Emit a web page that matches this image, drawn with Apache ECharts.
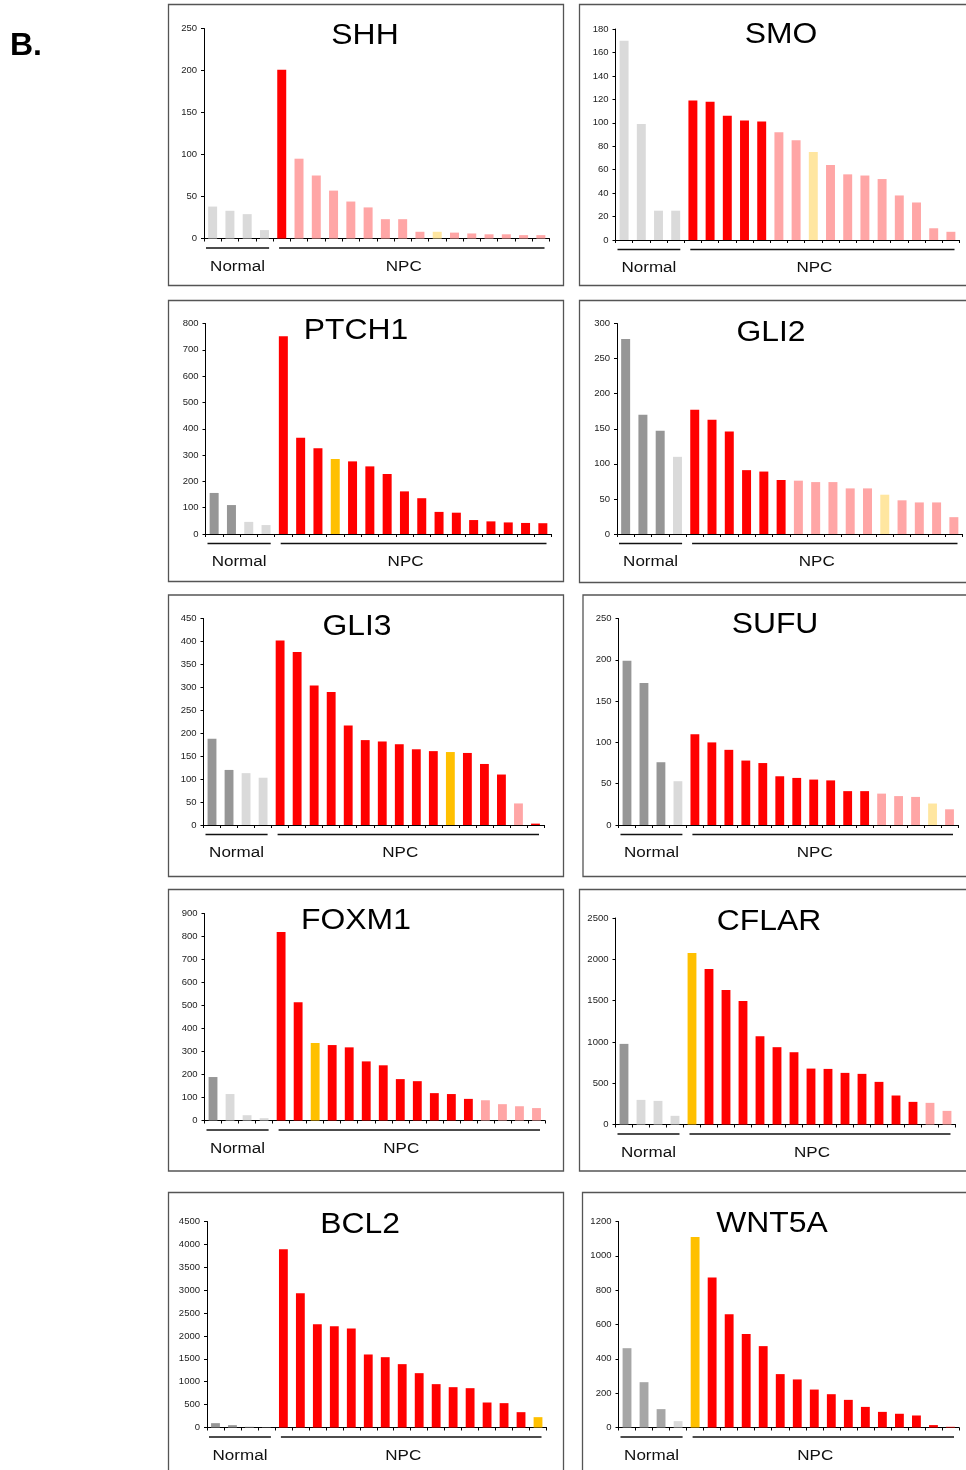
<!DOCTYPE html>
<html>
<head>
<meta charset="utf-8">
<script src="https://cdn.jsdelivr.net/npm/echarts@6/dist/echarts.min.js"></script>
<style>
html, body { margin: 0; padding: 0; background: #fff; }
#chart { width: 966px; height: 1470px; }
</style>
</head>
<body>
<div id="chart"></div>
<script>
// samples: 4 normal tissues then 16 NPC tumours
const categories = ['N1', 'N2', 'N3', 'N4',
    'T1', 'T2', 'T3', 'T4', 'T5', 'T6', 'T7', 'T8',
    'T9', 'T10', 'T11', 'T12', 'T13', 'T14', 'T15', 'T16'];
const groupNames = ['Normal', 'NPC'];

// expression values
const shhValues = [38, 33, 29, 10, 201, 95, 75, 57, 44, 37, 23, 23, 8, 8, 7, 6, 5, 5, 4, 4];
const smoValues = [170, 99, 25, 25, 119, 118, 106, 102, 101, 92, 85, 75, 64, 56, 55, 52, 38, 32, 10, 7];
const ptch1Values = [156, 110, 46, 34, 752, 366, 326, 285, 276, 257, 228, 162, 136, 84, 81, 53, 48, 44, 42, 41];
const gli2Values = [278, 170, 147, 110, 177, 163, 146, 91, 89, 77, 76, 74, 74, 65, 65, 56, 48, 45, 45, 24];
const gli3Values = [188, 120, 113, 103, 402, 377, 304, 290, 217, 185, 182, 176, 165, 161, 159, 157, 133, 110, 47, 3];
const sufuValues = [199, 172, 76, 53, 110, 100, 91, 78, 75, 59, 57, 55, 54, 41, 41, 38, 35, 34, 26, 19];
const foxm1Values = [189, 115, 23, 10, 820, 514, 337, 328, 318, 257, 240, 180, 171, 119, 115, 94, 88, 71, 62, 54];
const cflarValues = [976, 298, 286, 105, 2077, 1883, 1629, 1496, 1068, 936, 875, 677, 673, 625, 613, 516, 351, 274, 262, 165];
const bcl2Values = [95, 51, 15, 5, 3896, 2935, 2257, 2214, 2163, 1595, 1536, 1384, 1187, 947, 881, 859, 546, 532, 335, 226];
const wnt5aValues = [462, 264, 107, 37, 1109, 874, 660, 544, 474, 311, 280, 221, 194, 161, 120, 91, 80, 70, 14, 4];

// bar status codes: g dark gray, m mid gray, l light gray, r red, p pink, y pale yellow, o orange
const shhStatus = ['l','l','l','l','r','p','p','p','p','p','p','p','p','y','p','p','p','p','p','p'];
const smoStatus = ['l','l','l','l','r','r','r','r','r','p','p','y','p','p','p','p','p','p','p','p'];
const ptch1Status = ['g','g','l','l','r','r','r','o','r','r','r','r','r','r','r','r','r','r','r','r'];
const gli2Status = ['g','g','g','l','r','r','r','r','r','r','p','p','p','p','p','y','p','p','p','p'];
const gli3Status = ['g','g','l','l','r','r','r','r','r','r','r','r','r','r','o','r','r','r','p','r'];
const sufuStatus = ['g','g','g','l','r','r','r','r','r','r','r','r','r','r','r','p','p','p','y','p'];
const foxm1Status = ['g','l','l','l','r','r','o','r','r','r','r','r','r','r','r','r','p','p','p','p'];
const cflarStatus = ['g','l','l','l','o','r','r','r','r','r','r','r','r','r','r','r','r','r','p','p'];
const bcl2Status = ['g','g','g','l','r','r','r','r','r','r','r','r','r','r','r','r','r','r','r','o'];
const wnt5aStatus = ['m','m','m','l','o','r','r','r','r','r','r','r','r','r','r','r','r','r','r','r'];

const genes = ['SHH', 'SMO', 'PTCH1', 'GLI2', 'GLI3', 'SUFU', 'FOXM1', 'CFLAR', 'BCL2', 'WNT5A'];
const axisMax = [250, 180, 800, 300, 450, 250, 900, 2500, 4500, 1200];
const axisStep = [50, 20, 100, 50, 50, 50, 100, 500, 500, 200];
const allValues = [shhValues, smoValues, ptch1Values, gli2Values, gli3Values,
    sufuValues, foxm1Values, cflarValues, bcl2Values, wnt5aValues];
const allStatus = [shhStatus, smoStatus, ptch1Status, gli2Status, gli3Status,
    sufuStatus, foxm1Status, cflarStatus, bcl2Status, wnt5aStatus];

const palette = {
    g: '#969696', m: '#a6a6a6', l: '#dadada',
    r: '#ff0000', p: '#ffa6a6', y: '#ffe6a0', o: '#ffc000'
};

// layout: plot area [left, right, top(max), bottom(zero)], box [x, y, w, h], title centre
const plots = [
    [204, 549.5, 28.5, 238.5], [615.5, 959.5, 29, 240],
    [205.5, 551.5, 323.5, 534], [617, 962.5, 323.5, 534],
    [203.5, 544, 618.5, 825], [618.5, 958, 618.5, 825],
    [204.5, 545, 913.5, 1120.5], [615.5, 955.5, 918, 1124.5],
    [207, 546.5, 1221.5, 1427.5], [618.5, 959, 1221.5, 1427.5]
];
const boxes = [
    [168.5, 4.5, 395, 281], [579.5, 4.5, 400, 281],
    [168.5, 300.5, 395, 281], [579.5, 300.5, 400, 282],
    [168.5, 595, 395, 281.5], [583, 595, 400, 281.5],
    [168.5, 889.5, 395, 281.5], [579.5, 889.5, 400, 281.5],
    [168.5, 1192.5, 395, 300], [582.5, 1192.5, 400, 300]
];
const titlePos = [
    [365, 35.5], [781, 34.5], [356, 330.5], [771, 332.5], [357, 626.5],
    [775, 624.5], [356, 920.5], [769, 921.5], [360, 1224.5], [772, 1223.5]
];

const font = '"Liberation Sans", Arial, sans-serif';
const chart = echarts.init(document.getElementById('chart'), null, { renderer: 'canvas' });

const grids = [], xAxes = [], yAxes = [], series = [];
genes.forEach((gene, i) => {
    const p = plots[i];
    grids.push({ left: p[0], top: p[2], width: p[1] - p[0], height: p[3] - p[2], containLabel: false });
    xAxes.push({
        type: 'category', gridIndex: i, data: categories, boundaryGap: true,
        axisLine: { show: true, lineStyle: { color: '#000', width: 1 } },
        axisTick: { show: true, length: 3, interval: 0, lineStyle: { color: '#000' } },
        axisLabel: { show: false }, splitLine: { show: false }
    });
    yAxes.push({
        type: 'value', gridIndex: i, min: 0, max: axisMax[i], interval: axisStep[i],
        axisLine: { show: true, lineStyle: { color: '#000', width: 1 } },
        axisTick: { show: true, length: 3, lineStyle: { color: '#000' } },
        axisLabel: { fontSize: 9.5, color: '#222', margin: 7, fontFamily: font, formatter: v => String(v) },
        splitLine: { show: false }
    });
    series.push({
        type: 'bar', name: gene, xAxisIndex: i, yAxisIndex: i, barWidth: '52%',
        silent: true,
        data: allValues[i].map((v, k) => ({ value: v, itemStyle: { color: palette[allStatus[i][k]] } }))
    });
});

chart.setOption({
    animation: false,
    backgroundColor: '#fff',
    grid: grids, xAxis: xAxes, yAxis: yAxes, series: series
});

// panel frames, titles and the Normal / NPC brackets under each axis
const elements = [{
    type: 'text', left: 10, top: 30,
    style: { text: 'B.', font: 'bold 32px ' + font, fill: '#000' }
}];
genes.forEach((gene, i) => {
    const b = boxes[i];
    elements.push({
        type: 'rect', shape: { x: b[0], y: b[1], width: b[2], height: b[3] },
        style: { fill: null, stroke: '#555', lineWidth: 1.3 }, silent: true
    });
    elements.push({
        type: 'text', x: titlePos[i][0], y: titlePos[i][1], scaleX: 1.08,
        style: { text: gene, font: '29.5px ' + font, fill: '#000', align: 'center', verticalAlign: 'middle' }
    });
    const c0 = chart.convertToPixel({ xAxisIndex: i }, categories[0]);
    const c1 = chart.convertToPixel({ xAxisIndex: i }, categories[1]);
    const c3 = chart.convertToPixel({ xAxisIndex: i }, categories[3]);
    const cLast = chart.convertToPixel({ xAxisIndex: i }, categories[categories.length - 1]);
    const band = c1 - c0;
    const zeroY = chart.convertToPixel({ yAxisIndex: i }, 0);
    const lineY = zeroY + 9.5;
    const normA = c0 - band / 2 + 2, normB = c3 + band / 2 - 4;
    const npcA = c3 + band / 2 + 6, npcB = cLast + band / 2 - 5;
    [[normA, normB], [npcA, npcB]].forEach((seg, g) => {
        elements.push({
            type: 'line', shape: { x1: seg[0], y1: lineY, x2: seg[1], y2: lineY },
            style: { stroke: '#111', lineWidth: 1.5 }, silent: true
        });
        const mid = (seg[0] + seg[1]) / 2 - (g === 1 ? 8 : 0);
        elements.push({
            type: 'text', x: mid, y: zeroY + 28, scaleX: 1.1,
            style: { text: groupNames[g], font: '15.5px ' + font, fill: '#111', align: 'center', verticalAlign: 'middle' }
        });
    });
});
chart.setOption({ graphic: { elements: elements } });
</script>
</body>
</html>
